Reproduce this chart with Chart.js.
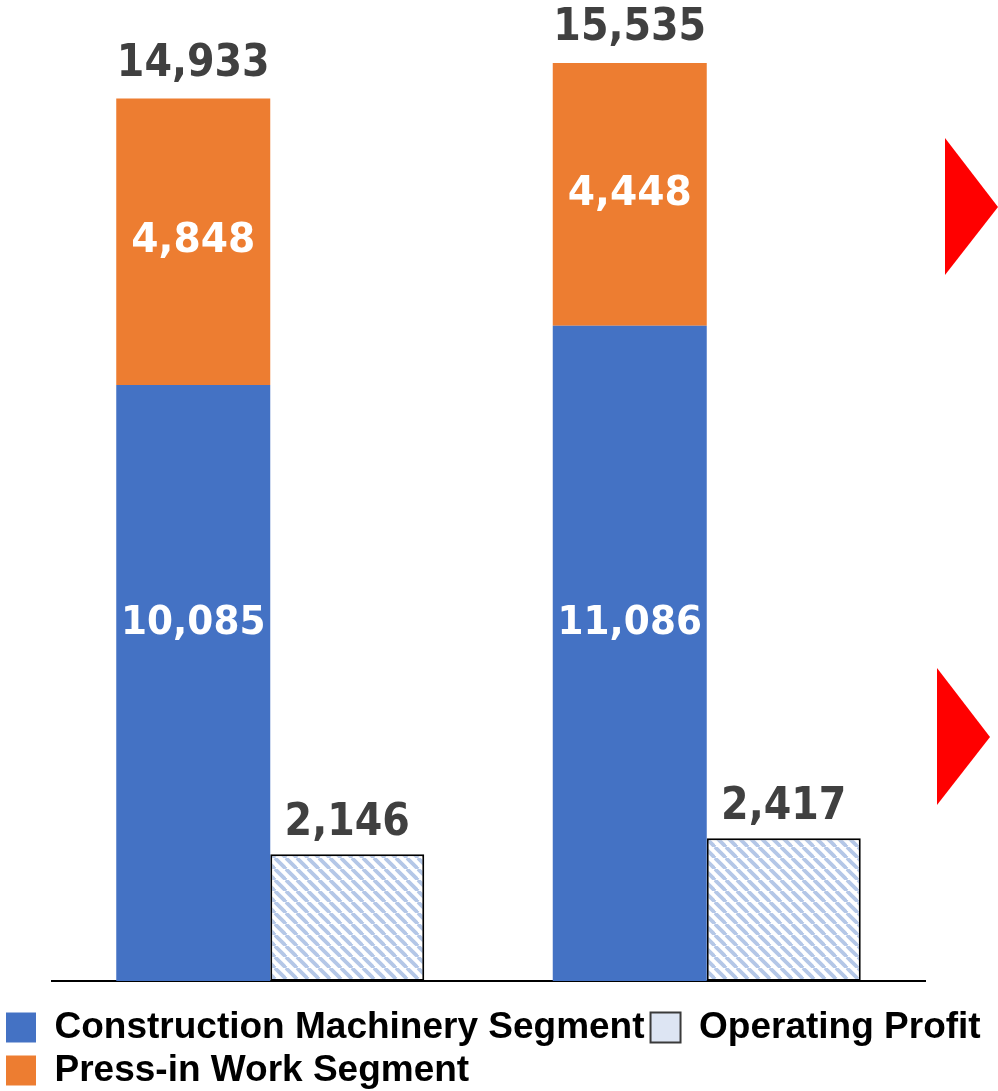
<!DOCTYPE html>
<html>
<head>
<meta charset="utf-8">
<script src="https://cdn.jsdelivr.net/npm/chart.js@4/dist/chart.umd.min.js"></script>
<style>
  html, body { margin: 0; padding: 0; background: #fff; overflow: hidden; }
  #wrap { width: 998px; height: 1091px; position: relative; }
</style>
</head>
<body>
<div id="wrap"><canvas id="salesChart"></canvas></div>
<script>
// 売上高・営業利益（百万円）
const periods = ['Previous FY', 'Current FY'];
const constructionMachinery = [10085, 11086];
const pressInWork = [4848, 4448];
const totalSales = [14933, 15535];
const operatingProfit = [2146, 2417];

function hatchPattern() {
    const c = document.createElement('canvas');
    c.width = 11; c.height = 11;
    const g = c.getContext('2d');
    g.fillStyle = '#ffffff';
    g.fillRect(0, 0, 11, 11);
    g.strokeStyle = '#b4c7e7';
    g.lineWidth = 3.8;
    [-11, 0, 11].forEach(function(off) {
        g.beginPath();
        g.moveTo(off, 0);
        g.lineTo(off + 11, 11);
        g.stroke();
    });
    return g.createPattern(c, 'repeat');
}

function fmt(v) {
    return v.toLocaleString('en-US');
}

function drawLabel(ctx, text, x, y, size, color, sx) {
    ctx.save();
    ctx.translate(x, y);
    ctx.scale(sx, 1);
    ctx.font = 'bold ' + size + 'px "DejaVu Sans"';
    ctx.fillStyle = color;
    ctx.textAlign = 'center';
    ctx.textBaseline = 'middle';
    ctx.fillText(text, 0, 0);
    ctx.restore();
}

const valueLabels = {
    id: 'valueLabels',
    afterDatasetsDraw(chart) {
        const ctx = chart.ctx;
        const yScale = chart.scales.y;
        const blue = chart.getDatasetMeta(0).data;
        const orange = chart.getDatasetMeta(1).data;
        const profit = chart.getDatasetMeta(2).data;
        blue.forEach(function(bar, i) {
            drawLabel(ctx, fmt(constructionMachinery[i]), bar.x, yScale.getPixelForValue(6050), 39, '#ffffff', 0.96);
        });
        orange.forEach(function(bar, i) {
            drawLabel(ctx, fmt(pressInWork[i]), bar.x, (bar.y + bar.base) / 2, 40, '#ffffff', 0.98);
            drawLabel(ctx, fmt(totalSales[i]), bar.x, bar.y - 34, 44, '#404040', 0.9);
        });
        profit.forEach(function(bar, i) {
            drawLabel(ctx, fmt(operatingProfit[i]), bar.x, bar.y - 31, 44, '#404040', 0.9);
        });
    }
};

// 右側の赤い三角形
const arrows = {
    id: 'arrows',
    afterDraw(chart) {
        const ctx = chart.ctx;
        const r = chart.chartArea.right;
        ctx.save();
        ctx.fillStyle = '#ff0000';
        ctx.beginPath();
        ctx.moveTo(r + 20, 138);
        ctx.lineTo(r + 73, 207);
        ctx.lineTo(r + 20, 275);
        ctx.closePath();
        ctx.fill();
        ctx.beginPath();
        ctx.moveTo(r + 12, 668);
        ctx.lineTo(r + 65, 737);
        ctx.lineTo(r + 12, 805);
        ctx.closePath();
        ctx.fill();
        ctx.restore();
    }
};

new Chart(document.getElementById('salesChart'), {
    type: 'bar',
    data: {
        labels: periods,
        datasets: [
            {
                label: 'Construction Machinery Segment',
                data: constructionMachinery,
                backgroundColor: '#4472c4',
                stack: 'sales',
                borderWidth: 0,
            },
            {
                label: 'Press-in Work Segment',
                data: pressInWork,
                backgroundColor: '#ed7d31',
                stack: 'sales',
                borderWidth: 0,
            },
            {
                label: 'Operating Profit',
                data: operatingProfit,
                backgroundColor: hatchPattern(),
                borderColor: '#000000',
                borderWidth: 2,
                borderSkipped: false,
                stack: 'profit',
            },
        ]
    },
    options: {
        responsive: true,
        maintainAspectRatio: false,
        animation: false,
        datasets: {
            bar: { categoryPercentage: 0.7056, barPercentage: 1 }
        },
        layout: { padding: { left: 0, right: 0, top: 0, bottom: -8 } },
        scales: {
            x: {
                stacked: true,
                grid: { display: false, drawTicks: false },
                ticks: { display: false },
                border: { display: true, color: '#000000', width: 2 },
                afterFit: function(scale) { scale.height = 22; },
            },
            y: {
                stacked: true,
                position: 'left',
                min: 0,
                max: 16600,
                grid: { display: false, drawTicks: false },
                ticks: { display: false },
                border: { display: false },
                afterFit: function(scale) { scale.width = 52; },
            },
            yRight: {
                position: 'right',
                grid: { display: false, drawTicks: false },
                ticks: { display: false },
                border: { display: false },
                afterFit: function(scale) { scale.width = 73; },
            },
        },
        plugins: {
            legend: {
                position: 'bottom',
                align: 'start',
                labels: {
                    boxWidth: 30,
                    boxHeight: 30,
                    padding: 6,
                    color: '#000000',
                    font: { family: '"Liberation Sans", Arial', size: 37, weight: 'bold' },
                    sort: function(a, b) {
                        const order = [0, 2, 1];
                        return order.indexOf(a.datasetIndex) - order.indexOf(b.datasetIndex);
                    },
                    generateLabels: function(chart) {
                        const items = Chart.defaults.plugins.legend.labels.generateLabels(chart);
                        items.forEach(function(item) {
                            if (item.datasetIndex === 2) {
                                item.fillStyle = '#dde5f3';
                                item.strokeStyle = '#3a3a3a';
                                item.lineWidth = 2;
                            } else {
                                item.lineWidth = 0;
                            }
                        });
                        return items;
                    }
                }
            },
            tooltip: { enabled: false }
        }
    },
    plugins: [valueLabels, arrows]
});
</script>
</body>
</html>
